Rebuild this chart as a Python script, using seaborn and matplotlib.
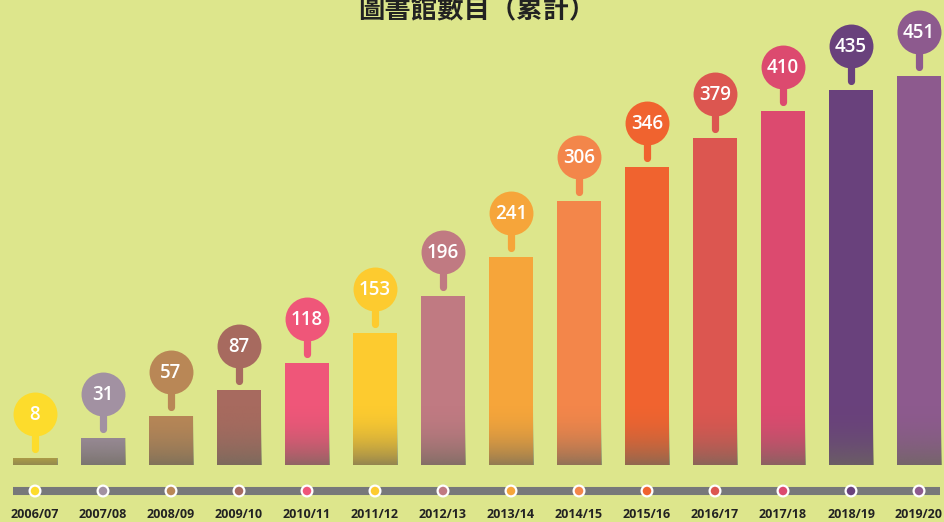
import numpy as np
import seaborn as sns
import matplotlib.pyplot as plt
from matplotlib.colors import to_rgb

# datos
anios = ['2006/07', '2007/08', '2008/09', '2009/10', '2010/11', '2011/12', '2012/13',
         '2013/14', '2014/15', '2015/16', '2016/17', '2017/18', '2018/19', '2019/20']
bibliotecas = [8, 31, 57, 87, 118, 153, 196, 241, 306, 346, 379, 410, 435, 451]
colores = ['#fddc2c', '#a291a2', '#b98756', '#a76a5f', '#ef5679', '#fdcb2f', '#c07a82',
           '#f6a53a', '#f3864a', '#f0632f', '#dc5650', '#dc4a6f', '#69417c', '#8d5a8e']
titulo = '圖書館數目（累計）'

fondo = '#dde68c'
W, H = 945, 522
px = 451 / 389.0          # unidades de datos por pixel

sns.set_style('white')
plt.rcParams['font.family'] = ['Open Sans', 'DejaVu Sans']

fig = plt.figure(figsize=(W / 100, H / 100), dpi=100, facecolor=fondo)
ax = fig.add_axes([1 / W, 57 / H, 952 / W, 465 / H])
ax.set_facecolor(fondo)

sns.barplot(x=anios, y=bibliotecas, hue=anios, palette=colores, legend=False,
            width=0.66, saturation=1, linewidth=0, ax=ax)
ax.set_xlim(-0.5, 13.5)
ax.set_ylim(0, 465 * px)
sns.despine(ax=ax, left=True, bottom=True)
ax.set_yticks([])
ax.set_xlabel('')
ax.set_ylabel('')

# degradado oscuro en la base de cada barra
grad_h = 65 * px
t = np.linspace(0, 1, 100)[:, None]
alpha = 0.72 * (1 - t) ** 2.2
img = np.zeros((100, 1, 4))
img[..., :3] = to_rgb('#6c6a5c')
img[..., 3] = alpha
for p in ax.patches:
    x0 = p.get_x()
    im = ax.imshow(img, extent=(x0, x0 + p.get_width(), 0, grad_h), origin='lower',
                   aspect='auto', zorder=p.get_zorder() + 0.1, interpolation='bilinear')
    im.set_clip_path(p)
ax.set_xlim(-0.5, 13.5)
ax.set_ylim(0, 465 * px)

# marcadores tipo "pin" con el valor
for i, (v, c) in enumerate(zip(bibliotecas, colores)):
    cy = v + 44 * px
    ax.plot([i, i], [v + 9 * px, cy], color=c, lw=5.2, solid_capstyle='round', zorder=4)
    ax.scatter(i, cy, s=1000, color=c, zorder=5, linewidths=0)
    ax.text(i, cy - 1 * px, str(v), color='white', ha='center', va='center',
            fontsize=13.5, fontweight='semibold', zorder=6)

# linea de tiempo
ty = -26 * px
x_left = -0.5 + 12 / 68
x_right = -0.5 + 939 / 68
ax.plot([x_left, x_right], [ty, ty], color='#77787a', lw=5.8, solid_capstyle='butt',
        clip_on=False, zorder=3)
ax.scatter(range(len(anios)), [ty] * len(anios), s=60, c=colores, edgecolors='white',
           linewidths=1.6, clip_on=False, zorder=4)

ax.set_xticks(range(len(anios)))
ax.set_xticklabels(anios, fontsize=9, fontweight='bold', color='#222222')
ax.tick_params(axis='x', length=0, pad=31)

fig.text(477 / W, 1 - 18 / H, titulo, ha='center', va='baseline', fontsize=19,
         fontweight='bold', color='#222222', family=['Noto Sans CJK TC', 'DejaVu Sans'])

plt.savefig('out.png', dpi=100, facecolor=fondo)
